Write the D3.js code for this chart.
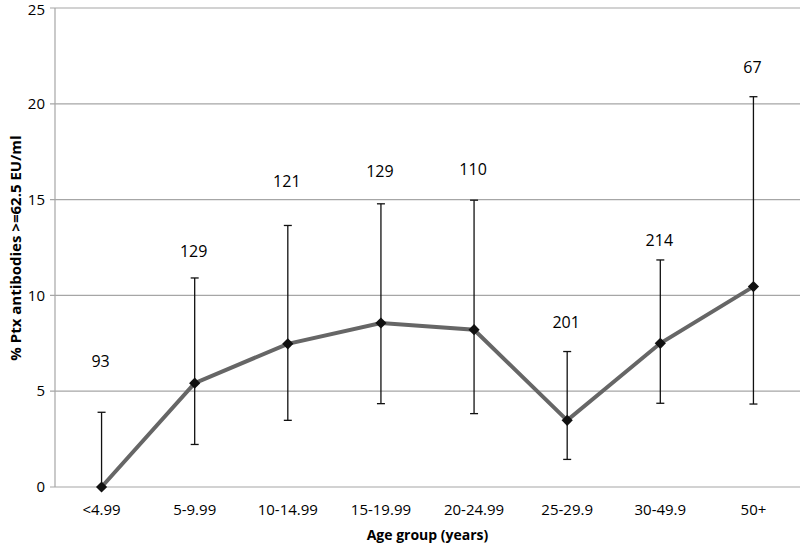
<!DOCTYPE html>
<html>
<head>
<meta charset="utf-8">
<script src="https://cdn.jsdelivr.net/npm/d3@7"></script>
<style>
  body { margin: 0; background: #fff; }
  text { font-family: "Open Sans", "Liberation Sans", sans-serif; fill: #000; }
</style>
</head>
<body>
<div id="wrapper"></div>
<script>
// age groups and values
const groups = ["<4.99", "5-9.99", "10-14.99", "15-19.99", "20-24.99", "25-29.9", "30-49.9", "50+"];
const pct = [0, 5.42, 7.47, 8.56, 8.21, 3.48, 7.50, 10.46];
const upper = [3.9, 10.91, 13.65, 14.78, 14.97, 7.07, 11.85, 20.37];
const lower = [0, 2.22, 3.48, 4.35, 3.83, 1.44, 4.37, 4.33];
const counts = ["93", "129", "121", "129", "110", "201", "214", "67"];
const countY = [6.56, 12.31, 15.96, 16.48, 16.56, 8.59, 12.87, 21.90];
const yTicks = [0, 5, 10, 15, 20, 25];

const width = 800, height = 543;
const margin = { top: 8, right: 0, bottom: 56, left: 55 };

const svg = d3.select("#wrapper")
    .append("svg")
    .attr("width", width)
    .attr("height", height);

const x = d3.scaleBand()
    .domain(groups)
    .range([margin.left, width - margin.right]);

const y = d3.scaleLinear()
    .domain([0, 25])
    .range([height - margin.bottom, margin.top]);

const rows = groups.map((g, i) => ({
    group: g, value: pct[i], hi: upper[i], lo: lower[i], n: counts[i], ny: countY[i]
}));
const cx = d => x(d.group) + x.bandwidth() / 2;

// gridlines
svg.append("g")
    .selectAll("line")
    .data(yTicks)
    .enter()
    .append("line")
    .attr("x1", margin.left - 5)
    .attr("x2", width - margin.right)
    .attr("y1", d => y(d))
    .attr("y2", d => y(d))
    .attr("stroke", "#a6a6a6")
    .attr("stroke-width", 1.2);

// y axis line
svg.append("line")
    .attr("x1", margin.left).attr("x2", margin.left)
    .attr("y1", y(25)).attr("y2", y(0))
    .attr("stroke", "#a6a6a6")
    .attr("stroke-width", 1.2);

// y tick labels (top one nudged so it stays inside the picture)
svg.append("g")
    .selectAll("text")
    .data(yTicks)
    .enter()
    .append("text")
    .attr("x", margin.left - 10)
    .attr("y", d => Math.max(y(d), 10))
    .attr("dy", "0.35em")
    .style("text-anchor", "end")
    .style("font-size", "15px")
    .text(d => d);

// x tick labels
svg.append("g")
    .selectAll("text")
    .data(groups)
    .enter()
    .append("text")
    .attr("x", d => x(d) + x.bandwidth() / 2)
    .attr("y", y(0) + 23)
    .attr("dy", "0.35em")
    .style("text-anchor", "middle")
    .style("font-size", "15px")
    .text(d => d);

// axis titles
svg.append("text")
    .attr("x", (margin.left + width - margin.right) / 2)
    .attr("y", 535)
    .attr("dy", "0.35em")
    .style("text-anchor", "middle")
    .style("font-size", "14px")
    .style("font-weight", "bold")
    .text("Age group (years)");

svg.append("text")
    .attr("transform", `translate(16,248) rotate(-90)`)
    .attr("dy", "0.35em")
    .style("text-anchor", "middle")
    .style("font-size", "15px")
    .style("font-weight", "bold")
    .text("% Ptx antibodies >=62.5 EU/ml");

// error bars
const err = svg.append("g")
    .selectAll("g")
    .data(rows)
    .enter()
    .append("g")
    .attr("stroke", "#111")
    .attr("stroke-width", 1.3);

err.append("line")
    .attr("x1", cx).attr("x2", cx)
    .attr("y1", d => y(d.lo)).attr("y2", d => y(d.hi));

err.append("line")
    .attr("x1", d => cx(d) - 4).attr("x2", d => cx(d) + 4)
    .attr("y1", d => y(d.hi)).attr("y2", d => y(d.hi));

err.filter(d => d.lo > 0)
    .append("line")
    .attr("x1", d => cx(d) - 4).attr("x2", d => cx(d) + 4)
    .attr("y1", d => y(d.lo)).attr("y2", d => y(d.lo));

// line
const line = d3.line()
    .x(cx)
    .y(d => y(d.value));

svg.append("path")
    .datum(rows)
    .attr("d", line)
    .attr("fill", "none")
    .attr("stroke", "#666")
    .attr("stroke-width", 4);

// diamond markers
svg.append("g")
    .selectAll("path")
    .data(rows)
    .enter()
    .append("path")
    .attr("d", d3.symbol().type(d3.symbolDiamond2).size(80))
    .attr("transform", d => `translate(${cx(d)},${y(d.value)})`)
    .attr("fill", "#111");

// count labels
svg.append("g")
    .selectAll("text")
    .data(rows)
    .enter()
    .append("text")
    .attr("x", d => cx(d) - 1)
    .attr("y", d => y(d.ny))
    .attr("dy", "0.35em")
    .style("text-anchor", "middle")
    .style("font-size", "16px")
    .text(d => d.n);
</script>
</body>
</html>
